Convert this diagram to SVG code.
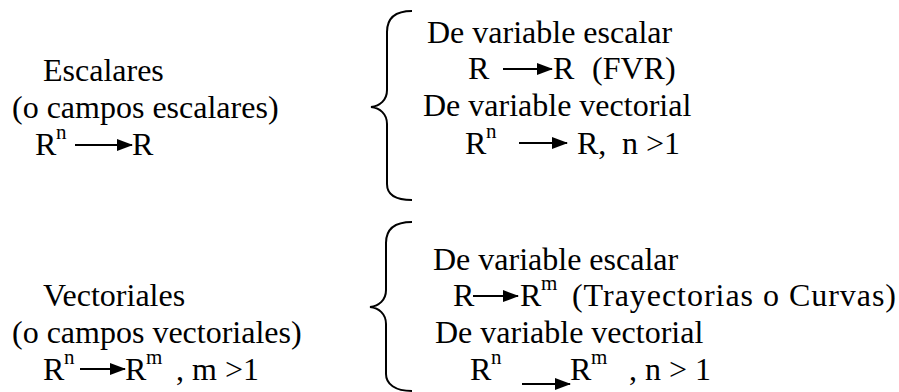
<svg xmlns="http://www.w3.org/2000/svg" width="899" height="392" viewBox="0 0 899 392">
<style>
text{font-size:32px;fill:#000}
.sup{font-size:21px}
.brace{fill:none;stroke:#000;stroke-width:2}
.arr{stroke:#000;stroke-width:2}
</style>
<defs>
<marker id="ah" markerWidth="8" markerHeight="6" refX="7.5" refY="3" orient="auto" markerUnits="strokeWidth">
<path d="M0,0 L8,3 L0,6 Z" fill="#000"/>
</marker>
</defs>
<rect width="899" height="392" fill="#fff"/>
<g font-family="'Liberation Serif', 'Times New Roman', serif">
<g id="escalares">
<text x="43" y="81">Escalares</text>
<text x="12" y="118">(o campos escalares)</text>
<text x="35" y="155">R</text><text class="sup" x="56" y="139">n</text>
<text x="132" y="155">R</text>
</g>
<g id="esc-opciones">
<text x="427" y="43">De variable escalar</text>
<text x="468" y="79">R</text><text x="553" y="79">R</text><text x="592" y="79">(FVR)</text>
<text x="423" y="116">De variable vectorial</text>
<text x="465" y="154">R</text><text class="sup" x="486" y="138">n</text>
<text x="577" y="154">R,</text><text x="622" y="154">n &gt;1</text>
</g>
<g id="vectoriales">
<text x="43" y="306">Vectoriales</text>
<text x="12" y="343">(o campos vectoriales)</text>
<text x="43" y="380">R</text><text class="sup" x="64" y="364">n</text>
<text x="125" y="380">R</text><text class="sup" x="146" y="364">m</text>
<text x="176" y="380">, m &gt;1</text>
</g>
<g id="vec-opciones">
<text x="433" y="270">De variable escalar</text>
<text x="453" y="306">R</text><text x="520" y="306">R</text><text class="sup" x="541" y="290">m</text>
<text x="572" y="306" textLength="324" lengthAdjust="spacing">(Trayectorias o Curvas)</text>
<text x="435" y="343">De variable vectorial</text>
<text x="470" y="380">R</text><text class="sup" x="491" y="364">n</text>
<text x="570" y="380">R</text><text class="sup" x="591" y="364">m</text>
<text x="629" y="380">, n &gt; 1</text>
</g>
</g>
<g id="connectors">
<path class="brace" d="M412,11 C395,11 387,18 387,32 L387,90 C387,100 380,106 371,107 C380,108 387,114 387,124 L387,184 C387,194 395,200 412,200"/>
<path class="brace" d="M412,222 C395,222 386,229 386,243 L386,290 C386,300 379,306 370,307 C379,308 386,314 386,324 L386,374 C386,384 395,391 412,391"/>
<line class="arr" x1="75" y1="145" x2="132" y2="145" marker-end="url(#ah)"/>
<line class="arr" x1="503" y1="69" x2="552" y2="69" marker-end="url(#ah)"/>
<line class="arr" x1="519" y1="143" x2="567" y2="143" marker-end="url(#ah)"/>
<line class="arr" x1="80" y1="369" x2="125" y2="369" marker-end="url(#ah)"/>
<line class="arr" x1="473" y1="296" x2="518" y2="296" marker-end="url(#ah)"/>
<line class="arr" x1="522" y1="384" x2="570" y2="384" marker-end="url(#ah)"/>
</g>
</svg>
